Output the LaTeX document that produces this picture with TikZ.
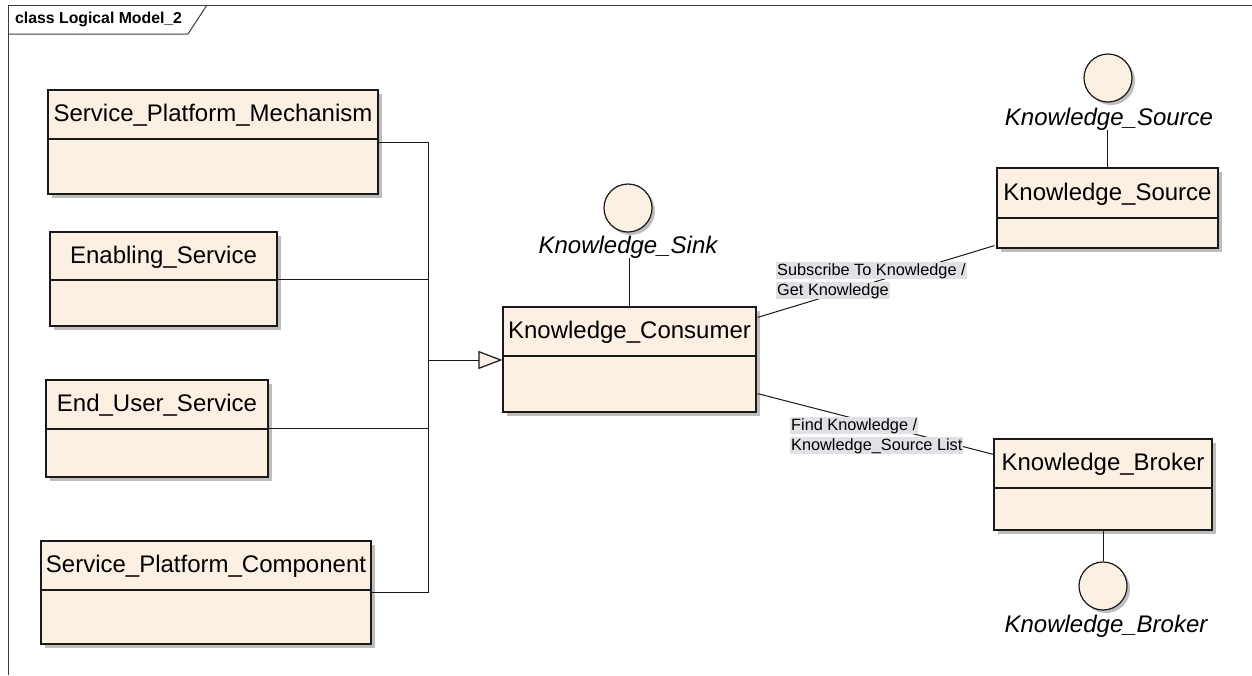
\documentclass[tikz,border=0pt]{standalone}
\usepackage{fontspec}
\setmainfont{Liberation Sans}
\usetikzlibrary{shadows,arrows.meta,calc}

\definecolor{classfill}{RGB}{251,240,226}
\definecolor{shadowgrey}{RGB}{190,190,190}
\definecolor{labelbg}{RGB}{226,224,228}
\definecolor{ink}{RGB}{25,25,25}
\definecolor{framegrey}{RGB}{60,60,60}

\tikzset{
  classbox/.style={draw=ink, line width=1.2pt, fill=classfill, inner sep=0pt,
    drop shadow={shadow xshift=4pt, shadow yshift=-4pt, fill=shadowgrey, opacity=1}},
  divider/.style={draw=ink, line width=1.2pt},
  classname/.style={font=\fontsize{24}{28}\selectfont, inner sep=0pt},
  iface/.style={circle, draw=ink, line width=1.2pt, fill=classfill, minimum size=48pt,
    inner sep=0pt, drop shadow={shadow xshift=3pt, shadow yshift=-3pt, fill=shadowgrey, opacity=1}},
  ifacename/.style={font=\fontsize{24}{28}\selectfont\itshape, inner sep=0pt},
  link/.style={draw=ink, line width=1pt},
  generalize/.style={link, -{Triangle[length=24pt, width=18pt, fill=classfill, line width=1.2pt]}},
  edgelabel/.style={font=\fontsize{16.3}{20}\selectfont, inner sep=0pt, align=left},
  frameline/.style={draw=framegrey, line width=1pt},
  titletext/.style={font=\fontsize{15.8}{19}\selectfont\bfseries, inner sep=0pt, anchor=west}
}

% UML class: name, left, top, right, bottom, divider y, title
\newcommand\umlclass[7]{%
  \node[classbox, minimum width={(#4-#2)*1pt}, minimum height={(#5-#3)*1pt}]
    (#1) at ({(#2+#4)/2},{(#3+#5)/2}) {};
  \draw[divider] (#2,#6) -- (#4,#6);
  \node[classname] (#1-name) at ({(#2+#4)/2},{(#3+#6)/2+1}) {#7};
}

\newcommand\lbl[1]{\setlength{\fboxsep}{1pt}\colorbox{labelbg}{#1}}

\begin{document}
\begin{tikzpicture}[x=1pt, y=-1pt]
  \useasboundingbox (0,0) rectangle (1252,675);
  \fill[white] (0,0) rectangle (1252,675);

  % diagram frame and its name tab
  \draw[frameline] (8,675) -- (8,5) -- (1252,5);
  \draw[frameline] (8,34) -- (188,34) -- (207,5);
  \node[titletext] (frametitle) at (15,19.5) {class Logical Model\_2};

  % classes
  \umlclass{spm}{48}{90}{378}{194}{139}{Service\_Platform\_Mechanism}
  \umlclass{ens}{50}{232}{277}{326}{280}{Enabling\_Service}
  \umlclass{eus}{46}{380}{268}{477}{429}{End\_User\_Service}
  \umlclass{spc}{41}{541}{371}{644}{590}{Service\_Platform\_Component}
  \umlclass{consumer}{503}{307}{756}{412}{356}{Knowledge\_Consumer}
  \umlclass{source}{997}{168}{1218}{248}{218}{Knowledge\_Source}
  \umlclass{broker}{994}{439}{1212}{530}{488}{Knowledge\_Broker}

  % provided interfaces
  \node[iface] (sinkif) at (628,208) {};
  \node[ifacename, anchor=base] (sinkname) at (628,253) {Knowledge\_Sink};
  \node[iface] (sourceif) at (1108,78) {};
  \node[ifacename, anchor=base] (sourcename) at (1109,125) {Knowledge\_Source};
  \node[iface] (brokerif) at (1103,586) {};
  \node[ifacename, anchor=base] (brokername) at (1106,632) {Knowledge\_Broker};

  \draw[link] (sinkname.south -| consumer.north) -- (consumer.north);
  \draw[link] (sourcename.south -| source.north) -- (source.north);
  \draw[link] (broker.south) -- (brokerif.north);

  % generalization tree
  \coordinate (junction) at (428,360);
  \draw[link] (spm.east) -| (junction);
  \draw[link] (ens.east) -| (junction);
  \draw[link] (eus.east) -| (junction);
  \draw[link] (spc.east) -| (junction);
  \draw[generalize] (junction) -- (consumer.west |- junction);

  % associations
  \draw[link] ($(consumer.north east)+(1,11)$) -- ($(source.south west)+(-2,-3)$);
  \draw[link] ($(consumer.south east)+(1,-19)$) -- ($(broker.north west)+(0,16)$);

  \node[edgelabel, anchor=north west] (sublabel) at (776,262)
    {\lbl{Subscribe To Knowledge /}\\\lbl{Get Knowledge}};
  \node[edgelabel, anchor=north west] (findlabel) at (790,417)
    {\lbl{Find Knowledge /}\\\lbl{Knowledge\_Source List}};
\end{tikzpicture}
\end{document}
